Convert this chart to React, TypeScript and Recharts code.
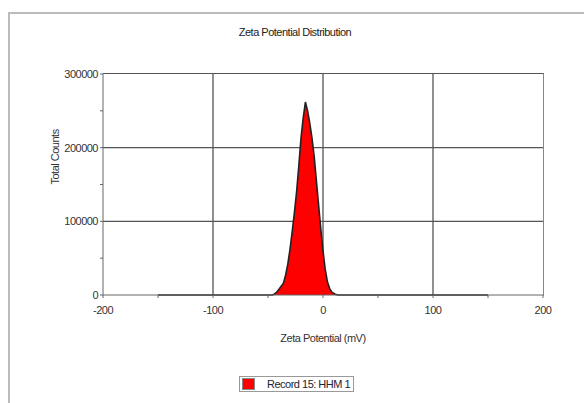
import React from "react";
import { AreaChart, Area, XAxis, YAxis, CartesianGrid } from "recharts";

// zeta potential (mV) and total counts
const zeta = [-150, -50, -46, -44, -42, -40, -38, -36, -34, -32, -30, -28, -26, -24, -22, -20, -18, -16, -14, -12, -10, -8, -6, -4, -2, 0, 2, 4, 6, 8, 11, 14, 50, 150];
const counts = [0, 0, 0, 1500, 4000, 8000, 12000, 16000, 27000, 42000, 62000, 86000, 112000, 140000, 175000, 213000, 240000, 262000, 250000, 233000, 213000, 188000, 155000, 122000, 90000, 60000, 35000, 18000, 9000, 4000, 1000, 0, 0, 0];

const xTicks = [-200, -150, -100, -50, 0, 50, 100, 150, 200];
const xGrid = [-100, 0, 100];
const yTicks = [0, 50000, 100000, 150000, 200000, 250000, 300000];
const yGrid = [100000, 200000];

const seriesName = "Record 15: HHM 1";
const title = "Zeta Potential Distribution";

const data = zeta.map((z, i) => ({ zeta: z, counts: counts[i] }));

const FONT = "'Liberation Sans', Arial, sans-serif";
const SPACING = -0.5;

function XTick(props: any) {
  const { x, y, payload } = props;
  if (payload.value % 100 !== 0) return null;
  return (
    <text x={x} y={y + 14} textAnchor="middle" fontSize={11} fill="#333" fontFamily={FONT} letterSpacing={SPACING}>
      {payload.value}
    </text>
  );
}

function YTick(props: any) {
  const { x, y, payload } = props;
  if (payload.value % 100000 !== 0) return null;
  return (
    <text x={x} y={y + 4} textAnchor="end" fontSize={11} fill="#333" fontFamily={FONT} letterSpacing={SPACING}>
      {payload.value}
    </text>
  );
}

export default function App() {
  return (
    <div style={{ position: "absolute", left: 0, top: 0, width: 584, height: 403, background: "#fff", overflow: "hidden" }}>
      <div style={{ position: "absolute", left: 8, top: 12, width: 600, height: 420, borderLeft: "2px solid #bbb", borderTop: "2px solid #bbb" }} />
      <div
        style={{ position: "absolute", left: 0, width: 590, top: 26, textAlign: "center", fontFamily: FONT, fontSize: 11, letterSpacing: SPACING, color: "#222" }}
      >
        {title}
      </div>
      <div style={{ position: "absolute", left: 0, top: 0 }}>
        <AreaChart width={584} height={403} data={data} margin={{ top: 74, right: 41, bottom: 88, left: 58 }}>
          <CartesianGrid
            stroke="#555"
            strokeWidth={1.3}
            horizontalValues={yGrid}
            verticalValues={xGrid}
          />
          <XAxis
            dataKey="zeta"
            type="number"
            domain={[-200, 200]}
            ticks={xTicks}
            interval={0}
            tick={<XTick />}
            tickSize={3}
            stroke="#666"
            height={20}
            label={{ value: "Zeta Potential (mV)", position: "insideBottom", offset: -27, fontSize: 11, fill: "#333", fontFamily: FONT, letterSpacing: SPACING }}
          />
          <YAxis
            type="number"
            domain={[0, 300000]}
            ticks={yTicks}
            interval={0}
            tick={<YTick />}
            tickSize={3}
            stroke="#666"
            width={45}
            label={{ value: "Total Counts", angle: -90, position: "insideLeft", offset: -3, fontSize: 11, fill: "#333", fontFamily: FONT, letterSpacing: SPACING }}
          />
          <Area
            type="linear"
            dataKey="counts"
            name={seriesName}
            stroke="#222"
            strokeWidth={1.6}
            fill="#ff0000"
            fillOpacity={1}
            isAnimationActive={false}
          />
        </AreaChart>
      </div>
      {/* top border and right border of the plot */}
      <div style={{ position: "absolute", left: 103, top: 73, width: 440, height: 222, borderTop: "1.5px solid #555", borderRight: "1.5px solid #888", pointerEvents: "none" }} />
      {/* legend */}
      <div
        style={{
          position: "absolute",
          left: 239,
          top: 376,
          display: "flex",
          alignItems: "center",
          border: "1px solid #999",
          padding: "1px 3px 1px 2px",
          fontFamily: FONT,
          fontSize: 11,
          letterSpacing: SPACING,
          color: "#223",
          background: "#fff",
        }}
      >
        <span style={{ width: 11, height: 10, background: "#ff0000", border: "1px solid #888", marginRight: 12 }} />
        {seriesName}
      </div>
    </div>
  );
}
